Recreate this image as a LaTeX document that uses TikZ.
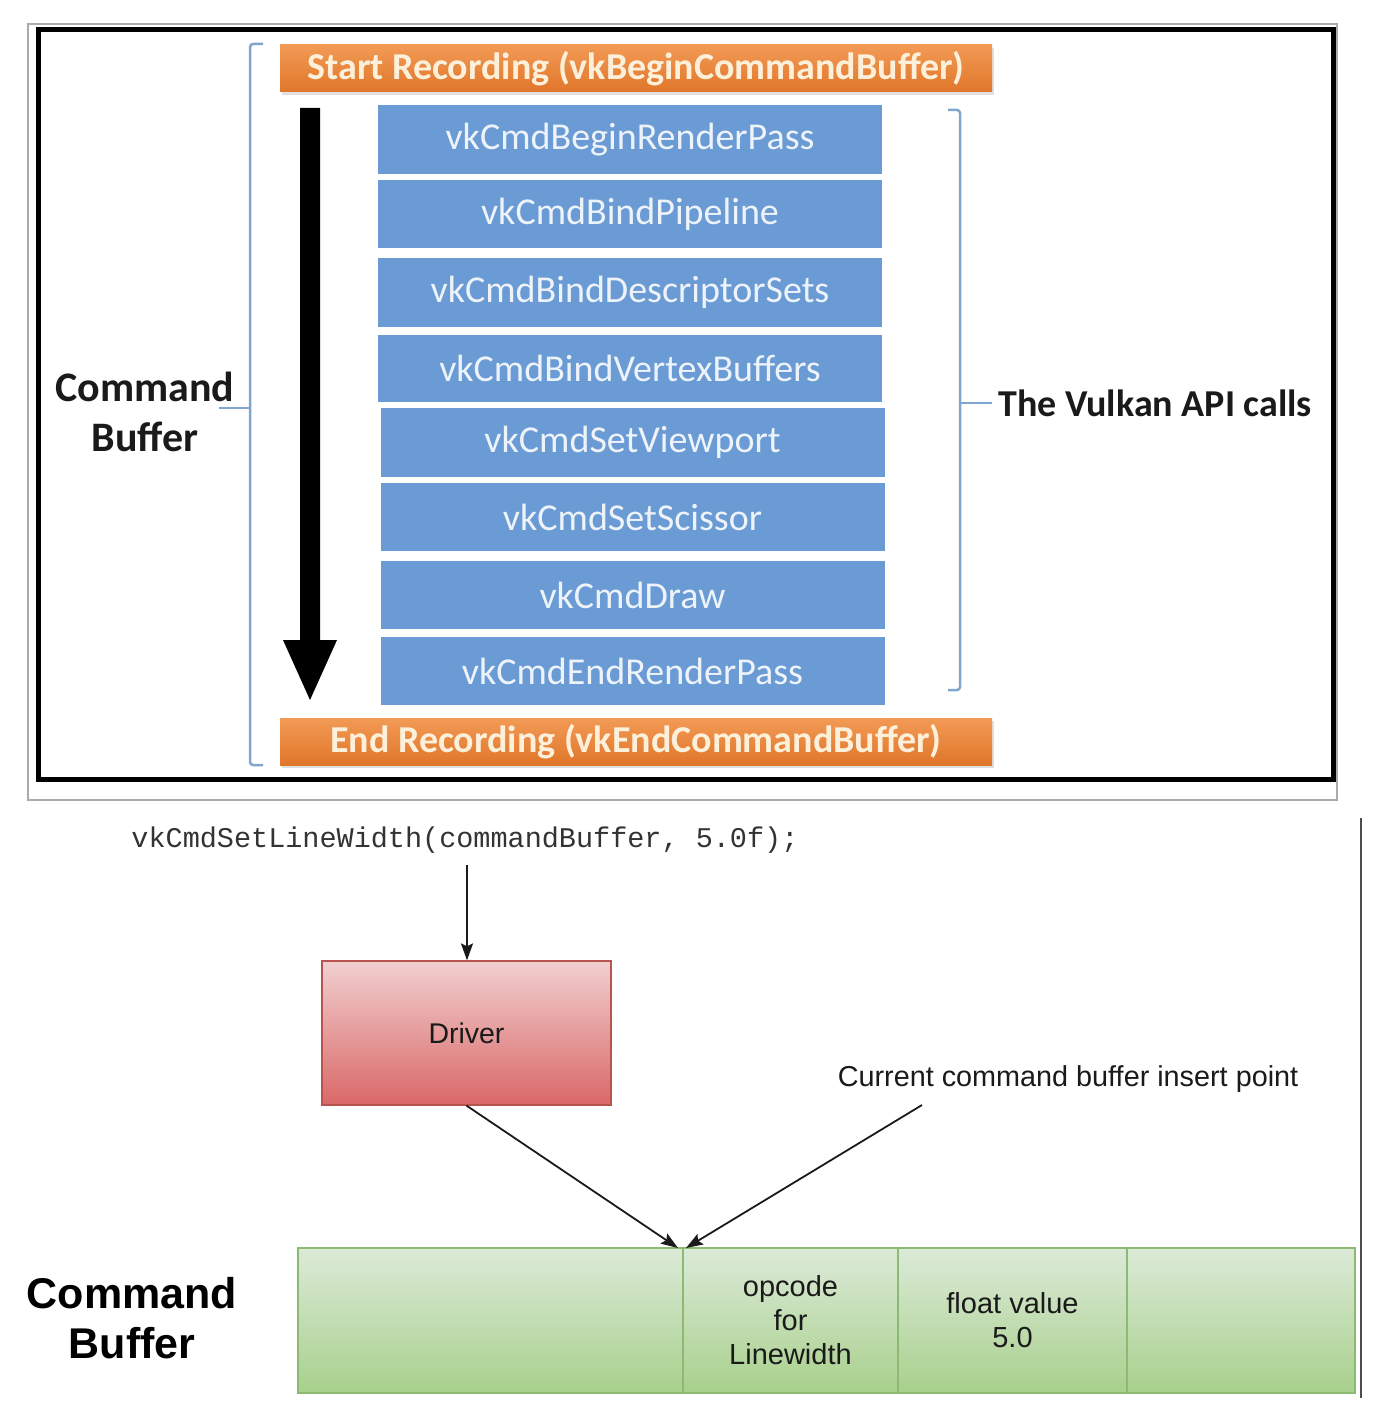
\documentclass[tikz,border=0pt]{standalone}
\usepackage{fontspec}
\setmainfont{Carlito}
\newfontfamily\arialf{Liberation Sans}
\newfontfamily\monof{Liberation Mono}
\usetikzlibrary{arrows.meta,shadows}
\definecolor{frameGray}{HTML}{AAAAAA}
\definecolor{brk}{HTML}{7FA6CF}
\definecolor{blueBox}{HTML}{6A9BD4}
\definecolor{blueTxt}{HTML}{EEF3FA}
\definecolor{orTop}{HTML}{F29A55}
\definecolor{orBot}{HTML}{E0762A}
\definecolor{orTxt}{HTML}{FDF0DA}
\definecolor{redTop}{HTML}{F1CFCF}
\definecolor{redBot}{HTML}{DA6868}
\definecolor{redLine}{HTML}{B85450}
\definecolor{grTop}{HTML}{DCEAD8}
\definecolor{grBot}{HTML}{A8D08C}
\definecolor{grLine}{HTML}{8CBA72}
\definecolor{ink}{HTML}{1A1A1A}
\tikzset{
  apibox/.style={fill=blueBox, text=blueTxt, minimum width=504pt, inner sep=0pt,
    font=\fontsize{38}{44}\selectfont},
  recbox/.style={top color=orTop, bottom color=orBot, draw=none, text=orTxt,
    minimum width=712pt, minimum height=47pt, inner sep=0pt,
    font=\bfseries\fontsize{38}{44}\selectfont,
    drop shadow={shadow xshift=2pt, shadow yshift=-3pt, opacity=0.25}},
  bracket/.style={draw=brk, line width=2.5pt, rounded corners=3pt},
  cell/.style={top color=grTop, bottom color=grBot, draw=grLine, line width=1.2pt,
    minimum height=145pt, inner sep=0pt, align=center,
    font=\arialf\fontsize{29}{34}\selectfont, text=ink},
  flowarrow/.style={draw=ink, line width=1.8pt, -{Stealth[length=17pt,width=12pt,inset=3pt]}},
  bigside/.style={font=\bfseries\fontsize{42}{50}\selectfont, text=ink, align=center, inner sep=0pt},
}
\begin{document}
\begin{tikzpicture}[x=1pt,y=-1pt]
\useasboundingbox (0,0) rectangle (1380,1418);
% frames
\draw[frameGray, line width=1.5pt] (28,24) rectangle (1337,800);
\draw[black, line width=5pt] (38,30) rectangle (1333,779);
% recording boxes
\node[recbox] (start) at (636,68.5) {Start Recording (vkBeginCommandBuffer)};
\node[recbox] (endrec) at (636,741.5) {End Recording (vkEndCommandBuffer)};
% API boxes
\node[apibox, minimum height=69pt] (b1) at (630,139.5) {vkCmdBeginRenderPass};
\node[apibox, minimum height=68pt] (b2) at (630,214) {vkCmdBindPipeline};
\node[apibox, minimum height=69pt] (b3) at (630,292.5) {vkCmdBindDescriptorSets};
\node[apibox, minimum height=67pt] (b4) at (630,368.5) {vkCmdBindVertexBuffers};
\node[apibox, minimum height=69pt] (b5) at (632.5,442.5) {vkCmdSetViewport};
\node[apibox, minimum height=68pt] (b6) at (632.5,517) {vkCmdSetScissor};
\node[apibox, minimum height=68pt] (b7) at (632.5,595) {vkCmdDraw};
\node[apibox, minimum height=68pt] (b8) at (632.5,671) {vkCmdEndRenderPass};
% big arrow
\fill[black] (300,108) -- (320,108) -- (320,640) -- (337,640) -- (310,700) -- (283,640) -- (300,640) -- cycle;
% brackets
\draw[bracket] (263,44) -- (250,44) -- (250,765) -- (263,765);
\draw[draw=brk, line width=2.5pt] (250,408) -- (219,408);
\draw[bracket] (948,110) -- (960,110) -- (960,690) -- (948,690);
\draw[draw=brk, line width=2.5pt] (960,403) -- (992,403);
% side labels
\node[bigside] (cbtop) at (145,412) {Command\\Buffer};
\node[bigside, anchor=west, font=\bfseries\fontsize{38}{46}\selectfont] (vapi) at (998,403) {The Vulkan API calls};
% ---------- bottom ----------
\draw[draw=black!70, line width=1.5pt] (1361,818) -- (1361,1398);
\node[font=\monof\fontsize{28.5}{34}\selectfont, text=black!80, inner sep=0pt] (code) at (465,840) {vkCmdSetLineWidth(commandBuffer, 5.0f);};
\node[top color=redTop, bottom color=redBot, draw=redLine, line width=1.2pt,
  minimum width=289pt, minimum height=144pt, inner sep=0pt,
  font=\arialf\fontsize{28.5}{34}\selectfont, text=ink] (driver) at (466.5,1033) {Driver};
\node[font=\arialf\fontsize{28.8}{34}\selectfont, text=ink, inner sep=0pt] (insert) at (1068,1079) {Current command buffer insert point};
\node[cell, minimum width=385pt] (c1) at (490.5,1320.5) {};
\node[cell, minimum width=215pt] (c2) at (790.5,1320.5) {opcode\\for\\Linewidth};
\node[cell, minimum width=229pt] (c3) at (1012.5,1320.5) {float value\\5.0};
\node[cell, minimum width=228pt] (c4) at (1241,1320.5) {};
\node[font=\arialf\bfseries\fontsize{43}{50}\selectfont, text=black, align=center, inner sep=0pt] (cbbot) at (132,1318) {Command\\Buffer};
\coordinate (codeout) at (467,865);
\coordinate (insL) at (678,1248);
\coordinate (insR) at (686,1248);
\coordinate (insfrom) at (922,1105);
\draw[flowarrow] (codeout) -- (driver.north -| codeout);
\draw[flowarrow] (driver.south) -- (insL);
\draw[flowarrow] (insfrom) -- (insR);
\end{tikzpicture}
\end{document}
